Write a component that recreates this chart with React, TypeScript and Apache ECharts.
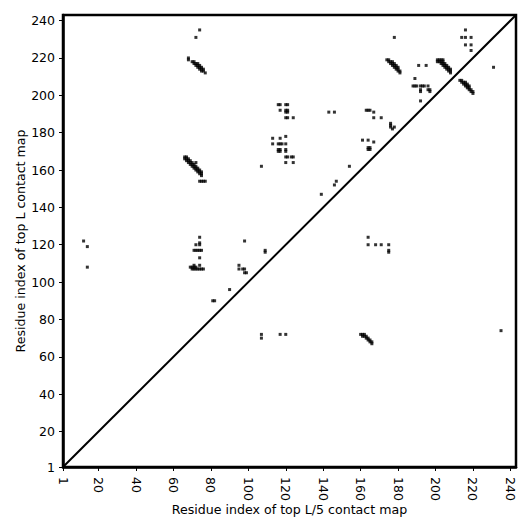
import React, { useEffect, useRef } from "react";
import * as echarts from "echarts";

const axisMin = 1;
const axisMax = 243;
const tickValues = [1, 20, 40, 60, 80, 100, 120, 140, 160, 180, 200, 220, 240];
const xTitle = "Residue index of top L/5 contact map";
const yTitle = "Residue index of top L contact map";
const diagonal = [[1, 1], [243, 243]];

// contacts above the diagonal (top L contact map)
const upperScattered = [
  [12, 122], [14, 119], [14, 108],
  [74, 124], [74, 121], [72, 120], [74, 120], [71, 117], [72, 117], [73, 117], [74, 117], [75, 117], [74, 113],
  [70, 108], [71, 108], [72, 108], [70, 107], [71, 107], [72, 107], [73, 107], [69, 108], [71, 109],
  [74, 109], [74, 107], [75, 107], [76, 107],
  [81, 90], [82, 90], [90, 96],
  [95, 109], [95, 107], [97, 107], [98, 107], [98, 105], [99, 105], [98, 122],
  [109, 117], [109, 116],
  [107, 162], [120, 164], [124, 164], [154, 162], [147, 154], [146, 152], [139, 147],
  [164, 124], [164, 120], [168, 120], [171, 120], [175, 120], [175, 117], [175, 116],
  [120, 167], [121, 167], [123, 167], [124, 167],
  [116, 171], [117, 171], [116, 170], [117, 170], [120, 171], [120, 170],
  [113, 177], [117, 177], [120, 178], [113, 174], [116, 174], [117, 174], [118, 174], [120, 174],
  [116, 195], [117, 195], [120, 195], [121, 195],
  [117, 192], [120, 192], [121, 192], [120, 191], [121, 191],
  [120, 188], [121, 188], [124, 188],
  [143, 191], [146, 191],
  [163, 192], [164, 192], [165, 192], [167, 191], [167, 188], [171, 188],
  [176, 185], [176, 184], [176, 183], [177, 182], [178, 183],
  [192, 197],
  [161, 176], [164, 176], [167, 175], [164, 172], [165, 172], [164, 171], [165, 171],
  [178, 231], [191, 216], [195, 216], [189, 209],
  [188, 205], [189, 205], [190, 205], [192, 205], [193, 205], [194, 205], [196, 205],
  [192, 203], [192, 202], [196, 203], [197, 203], [197, 202],
  [216, 235], [214, 231], [216, 231], [219, 231], [216, 227], [219, 227], [219, 224],
  [74, 235], [72, 231], [68, 220], [68, 219],
  [72, 164], [74, 154], [75, 154], [76, 154], [77, 154],
];

const upperBandA = [
  [70, 218], [71, 218], [71, 217], [72, 217], [72, 216], [73, 217], [73, 216], [73, 215],
  [74, 216], [74, 215], [74, 214], [75, 215], [75, 214], [75, 213], [76, 214], [76, 213], [77, 212],
];

const upperBandB = [
  [66, 167], [66, 166], [67, 167], [67, 166], [67, 165], [68, 166], [68, 165], [68, 164],
  [69, 165], [69, 164], [69, 163], [70, 164], [70, 163], [70, 162], [71, 163], [71, 162], [71, 161],
  [72, 162], [72, 161], [72, 160], [73, 161], [73, 160], [73, 159], [74, 160], [74, 159], [74, 158],
  [75, 159], [75, 158], [75, 157],
];

const upperBandC = [
  [174, 219], [175, 219], [175, 218], [176, 218], [176, 217], [177, 218], [177, 217], [177, 216],
  [178, 217], [178, 216], [178, 215], [179, 216], [179, 215], [179, 214], [180, 215], [180, 214],
  [180, 213], [181, 213], [181, 212],
];

const upperBandD = [
  [201, 219], [202, 219], [203, 219], [204, 219], [201, 218], [202, 218], [203, 218], [204, 218],
  [203, 217], [204, 217], [205, 217], [204, 216], [205, 216], [206, 216], [205, 215], [206, 215],
  [207, 215], [206, 214], [207, 214], [208, 214], [207, 213], [208, 213], [208, 212],
];

// contacts below the diagonal (top L/5 contact map)
const lowerScattered = [
  [160, 72], [161, 72], [162, 72], [161, 71], [162, 71], [163, 71], [163, 70], [164, 70],
  [164, 69], [165, 69], [165, 68], [166, 68], [166, 67],
  [235, 74], [107, 72], [107, 70], [117, 72], [120, 72], [231, 215],
];

const lowerBandE = [
  [213, 208], [214, 208], [214, 207], [215, 207], [215, 206], [216, 207], [216, 206], [216, 205],
  [217, 206], [217, 205], [217, 204], [218, 205], [218, 204], [218, 203], [219, 203], [219, 202],
  [220, 202], [220, 201],
];

const FONT = "DejaVu Sans";

export default function App() {
  const ref = useRef<HTMLDivElement>(null);
  useEffect(() => {
    if (!ref.current) return;
    const chart = echarts.init(ref.current, null, { renderer: "svg" });
    const dot = {
      type: "scatter" as const,
      symbol: "rect",
      symbolSize: 3,
      itemStyle: { color: "#000" },
      silent: true,
    };
    const axisCommon = {
      type: "value" as const,
      min: axisMin,
      max: axisMax,
      splitLine: { show: false },
      axisLine: { show: true, onZero: false, lineStyle: { color: "#000", width: 2.5 } },
      axisTick: { show: true, inside: false, length: 4, customValues: tickValues, lineStyle: { color: "#000", width: 1 } },
      nameLocation: "middle" as const,
      nameMoveOverlap: false,
      nameTextStyle: { fontFamily: FONT, fontSize: 12.6, color: "#000" },
    };
    chart.setOption({
      animation: false,
      backgroundColor: "#fff",
      grid: {
        left: 63,
        top: 15,
        right: 15,
        bottom: 64,
        show: true,
        borderColor: "#000",
        borderWidth: 2.5,
        backgroundColor: "transparent",
      },
      xAxis: {
        ...axisCommon,
        name: xTitle,
        nameGap: 36,
        axisLabel: {
          customValues: tickValues,
          rotate: -90,
          margin: 10,
          fontFamily: FONT,
          fontSize: 12.5,
          color: "#000",
        },
      },
      yAxis: {
        ...axisCommon,
        name: yTitle,
        nameGap: 36,
        axisLabel: {
          customValues: tickValues,
          margin: 8,
          fontFamily: FONT,
          fontSize: 12.5,
          color: "#000",
        },
      },
      series: [
        {
          type: "line",
          data: diagonal,
          symbol: "none",
          silent: true,
          lineStyle: { color: "#000", width: 2 },
        },
        { ...dot, data: upperScattered },
        { ...dot, data: upperBandA },
        { ...dot, data: upperBandB },
        { ...dot, data: upperBandC },
        { ...dot, data: upperBandD },
        { ...dot, data: lowerScattered },
        { ...dot, data: lowerBandE },
      ],
    });
    return () => chart.dispose();
  }, []);
  return (
    <div
      ref={ref}
      style={{ position: "fixed", left: 0, top: 0, width: 531, height: 531 }}
    />
  );
}
